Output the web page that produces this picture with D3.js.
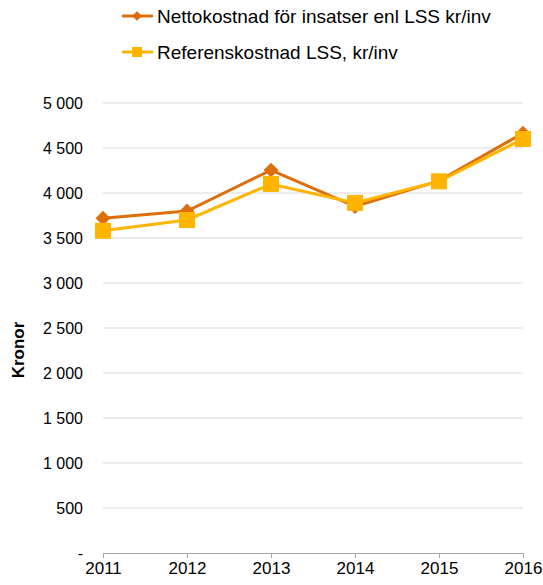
<!DOCTYPE html>
<html>
<head>
<meta charset="utf-8">
<script src="https://cdn.jsdelivr.net/npm/d3@7"></script>
<style>
  body { margin: 0; background: #fff; }
  text { font-family: "Liberation Sans", Arial, sans-serif; fill: #000; }
</style>
</head>
<body>
<svg id="graph" width="543" height="585"></svg>
<script>
var years = [2011, 2012, 2013, 2014, 2015, 2016];
var netto = [3720, 3800, 4255, 3850, 4135, 4665];
var referens = [3580, 3700, 4100, 3890, 4130, 4600];
var yTicks = [0, 500, 1000, 1500, 2000, 2500, 3000, 3500, 4000, 4500, 5000];
var seriesNames = ["Nettokostnad för insatser enl LSS kr/inv", "Referenskostnad LSS, kr/inv"];
var colors = ["#DE6E0B", "#FFB400"];

var svg = d3.select("#graph");
var margin = { top: 103, right: 20, bottom: 32, left: 103 };
var width = 543, height = 585;

var x = d3.scalePoint()
    .domain(years)
    .range([margin.left, width - margin.right]);

var y = d3.scaleLinear()
    .domain([0, 5000])
    .range([height - margin.bottom, margin.top]);

var fmt = d => d === 0 ? "-" : d3.format(",")(d).replace(/,/g, " ");

// gridlines
svg.append("g")
    .selectAll("line")
    .data(yTicks.filter(d => d > 0))
    .join("line")
    .attr("x1", margin.left)
    .attr("x2", width - margin.right)
    .attr("y1", d => y(d))
    .attr("y2", d => y(d))
    .attr("stroke", "#d9d9d9")
    .attr("stroke-width", 1);

// y axis labels
svg.append("g")
    .attr("transform", `translate(${margin.left},0)`)
    .call(d3.axisLeft(y).tickValues(yTicks).tickFormat(fmt).tickSize(0).tickPadding(20))
    .call(g => g.select(".domain").remove())
    .call(g => g.selectAll("text").attr("font-size", 16).attr("font-family", "Liberation Sans, Arial, sans-serif").attr("fill", "#000"));

// x axis
svg.append("g")
    .attr("transform", `translate(0,${height - margin.bottom})`)
    .call(d3.axisBottom(x).tickSizeOuter(0).tickSize(5).tickPadding(4))
    .call(g => g.select(".domain").attr("stroke", "#a6a6a6"))
    .call(g => g.selectAll(".tick line").attr("stroke", "#a6a6a6"))
    .call(g => g.selectAll("text").attr("font-size", 17).attr("font-family", "Liberation Sans, Arial, sans-serif").attr("fill", "#000"));

// y title
svg.append("text")
    .attr("transform", `translate(24,${y(2500) + 22}) rotate(-90)`)
    .attr("text-anchor", "middle")
    .attr("font-size", 17)
    .attr("font-weight", "bold")
    .text("Kronor");

var line = d3.line()
    .x((d, i) => x(years[i]))
    .y(d => y(d));

// netto line + diamonds
svg.append("path")
    .datum(netto)
    .attr("fill", "none")
    .attr("stroke", colors[0])
    .attr("stroke-width", 3)
    .attr("d", line);

var diamond = d3.symbol().type(d3.symbolDiamond2).size(140);
svg.append("g")
    .selectAll("path")
    .data(netto)
    .join("path")
    .attr("transform", (d, i) => `translate(${x(years[i])},${y(d)})`)
    .attr("d", diamond)
    .attr("fill", colors[0]);

// referens line + squares
svg.append("path")
    .datum(referens)
    .attr("fill", "none")
    .attr("stroke", colors[1])
    .attr("stroke-width", 3)
    .attr("d", line);

svg.append("g")
    .selectAll("rect")
    .data(referens)
    .join("rect")
    .attr("x", (d, i) => x(years[i]) - 8)
    .attr("y", d => y(d) - 8)
    .attr("width", 16)
    .attr("height", 16)
    .attr("fill", colors[1]);

// legend
var legend = svg.append("g");
seriesNames.forEach((name, i) => {
    var ly = 16 + i * 36;
    legend.append("line")
        .attr("x1", 122).attr("x2", 153)
        .attr("y1", ly).attr("y2", ly)
        .attr("stroke", colors[i])
        .attr("stroke-width", 3);
    if (i === 0) {
        legend.append("path")
            .attr("transform", `translate(137,${ly})`)
            .attr("d", d3.symbol().type(d3.symbolDiamond2).size(60))
            .attr("fill", colors[i]);
    } else {
        legend.append("rect")
            .attr("x", 132).attr("y", ly - 5)
            .attr("width", 10).attr("height", 10)
            .attr("fill", colors[i]);
    }
    legend.append("text")
        .attr("x", 157)
        .attr("y", ly + 7)
        .attr("font-size", 19)
        .text(name);
});
</script>
</body>
</html>
